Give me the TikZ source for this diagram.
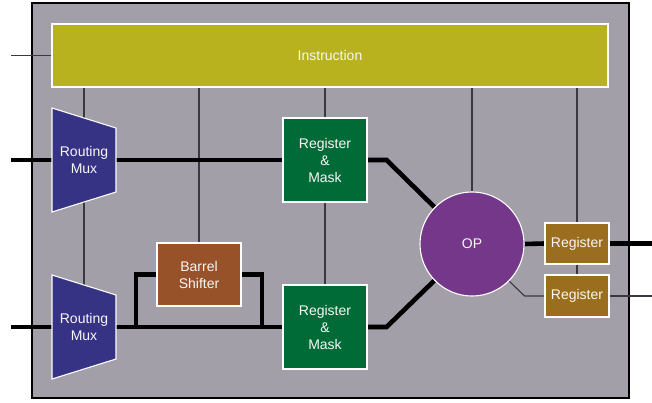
\documentclass[tikz,border=0pt]{standalone}
\usepackage{fontspec}
\setmainfont{Liberation Sans}
\definecolor{chipbg}{HTML}{A29FA9}
\definecolor{instrc}{HTML}{B7B21D}
\definecolor{muxc}{HTML}{373384}
\definecolor{barrelc}{HTML}{97522A}
\definecolor{regmaskc}{HTML}{006B37}
\definecolor{opc}{HTML}{74378A}
\definecolor{regc}{HTML}{9A6E1E}
\definecolor{wirec}{HTML}{3A383E}
\pgfdeclarelayer{frame}
\pgfdeclarelayer{wires}
\pgfsetlayers{frame,wires,main}
\tikzset{
  blk/.style={draw=white, line width=1.1pt, text=white!94!gray, align=center,
    inner sep=0pt, font=\fontsize{14}{17}\selectfont},
  bus/.style={line width=4.6pt, draw=black},
  wire/.style={line width=1.1pt, draw=wirec},
  muxshape/.style={draw=white, line width=1.1pt, fill=muxc},
}
\begin{document}
\begin{tikzpicture}[x=1pt,y=-1pt]
\useasboundingbox (0,0) rectangle (652,402);

% chip outline
\begin{pgfonlayer}{frame}
  \draw[fill=chipbg, line width=2pt] (32,3) rectangle (629,398);
\end{pgfonlayer}

% functional blocks
\node[blk, fill=instrc, minimum width=556pt, minimum height=63pt] (instr) at (330,55.5) {Instruction};

\draw[muxshape] (52,108) -- (116,128) -- (116,192) -- (52,212) -- cycle;
\node[blk, draw=none] (mux1) at (84,160) {Routing\\Mux};
\draw[muxshape] (52,275) -- (116,295) -- (116,359) -- (52,379) -- cycle;
\node[blk, draw=none] (mux2) at (84,327) {Routing\\Mux};

\node[blk, fill=barrelc, minimum width=84pt, minimum height=63pt] (barrel) at (199,274.5) {Barrel\\Shifter};
\node[blk, fill=regmaskc, minimum width=84pt, minimum height=84pt] (rm1) at (325,160) {Register\\\&\\Mask};
\node[blk, fill=regmaskc, minimum width=84pt, minimum height=84pt] (rm2) at (325,327) {Register\\\&\\Mask};
\node[blk, fill=opc, circle, minimum size=104pt] (op) at (472,244) {OP};
\node[blk, fill=regc, minimum width=64pt, minimum height=41pt] (reg1) at (577,243.5) {Register};
\node[blk, fill=regc, minimum width=64pt, minimum height=42pt] (reg2) at (577,296) {Register};

% free ends and taps
\coordinate (inI) at (11,55.5);
\coordinate (in1) at (11,160);
\coordinate (in2) at (11,327);
\coordinate (tapL) at (136,327);
\coordinate (tapR) at (262,327);
\coordinate (out1) at (652,243.5);
\coordinate (out2) at (652,296);

\begin{pgfonlayer}{wires}
  % control lines from the instruction
  \draw[wire] (inI) -- (instr.west);
  \draw[wire] (instr.south -| mux1.center) -- (mux2.center);
  \draw[wire] (instr.south -| barrel.north) -- (barrel.north);
  \draw[wire] (instr.south -| rm1.north) -- (rm1.north);
  \draw[wire] (rm1.south) -- (rm2.north);
  \draw[wire] (instr.south -| op.north) -- (op.north);
  \draw[wire] (instr.south -| reg1.north) -- (reg1.north);
  \draw[wire] (reg1.south) -- (reg2.north);
  \draw[wire] (op.-45) -- (op.east |- reg2.west) -- (reg2.west);
  \draw[wire] (reg2.east) -- (out2);
  % data buses
  \draw[bus] (in1) -- (rm1.west);
  \draw[bus] (in2) -- (rm2.west);
  \draw[bus] (tapL) |- (barrel.west);
  \draw[bus] (barrel.east) -| (tapR);
  \draw[bus, line join=miter] (rm1.east) -- ++(19,0) -- (op);
  \draw[bus, line join=miter] (rm2.east) -- ++(19,0) -- (op);
  \draw[bus] (op.east) -- (reg1.west);
  \draw[bus] (reg1.east) -- (out1);
\end{pgfonlayer}
\end{tikzpicture}
\end{document}
